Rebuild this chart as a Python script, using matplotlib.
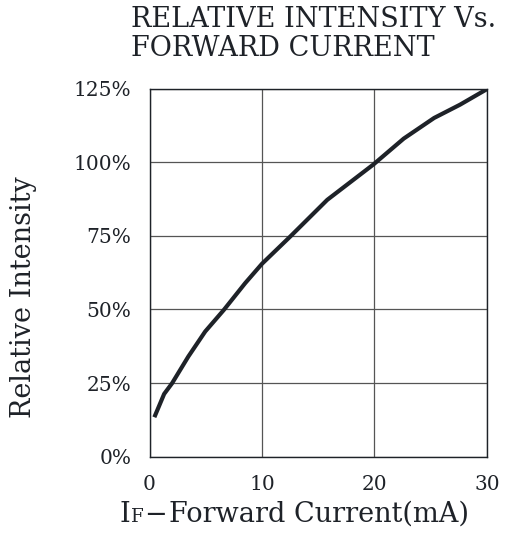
import matplotlib
matplotlib.use("Agg")
import matplotlib.pyplot as plt

# значения
current_mA = [0.43, 1.3, 2.0, 3.45, 4.95, 6.6, 8.5, 10.0, 12.5, 15.8, 19.9, 22.6, 25.3, 27.6, 30.0]
rel_intensity = [13.4, 21.3, 24.9, 34.0, 42.5, 49.8, 58.9, 65.5, 74.7, 87.2, 99.2, 108.0, 115.0, 119.5, 124.8]

x_ticks = [0, 10, 20, 30]
y_ticks = [0, 25, 50, 75, 100, 125]
y_tick_labels = ["0%", "25%", "50%", "75%", "100%", "125%"]

plt.rcParams['font.family'] = ['DejaVu Serif']
ink = '#1e2228'
W, H = 511, 544

fig = plt.figure(figsize=(5.11, 5.44), dpi=100)
ax1 = fig.add_axes([0.2926, 0.1605, 0.9530 - 0.2926, 0.8373 - 0.1605])

ax1.plot(current_mA, rel_intensity, color=ink, lw=3.0, solid_capstyle='butt', zorder=3)

ax1.set_xlim(0, 30)
ax1.set_ylim(0, 125)
ax1.set_xticks(x_ticks)
ax1.set_yticks(y_ticks)
ax1.set_yticklabels(y_tick_labels)
ax1.grid(True, color='#555555', lw=0.9)
ax1.tick_params(axis='both', which='major', length=0, labelsize=14.5, colors=ink)
ax1.tick_params(axis='x', pad=13)
ax1.tick_params(axis='y', pad=13)
for sp in ax1.spines.values():
    sp.set_color(ink)
    sp.set_linewidth(1.0)

renderer = fig.canvas.get_renderer()
label_size = 19.5

# заголовок в две строки
fig.text(131 / W, 1 - 26.7 / H, "RELATIVE INTENSITY Vs.", fontsize=19.5, color=ink, ha='left', va='baseline')
fig.text(131 / W, 1 - 55.5 / H, "FORWARD CURRENT", fontsize=19.5, color=ink, ha='left', va='baseline')

# подпись оси Y
fig.text(24 / W, 1 - 297.5 / H, "Relative Intensity", fontsize=label_size, color=ink,
         rotation=90, ha='center', va='center')

# подпись оси X: I с малой F, затем остальное; собираем по кускам
base = 1 - 521.7 / H
parts = [("I", label_size), ("F", label_size * 0.68), ("\u2212", label_size), ("Forward Current(mA)", label_size)]
gaps = [0, 1, 2]
txts = [fig.text(0, base, s, fontsize=fsz, color=ink, ha='left', va='baseline') for s, fsz in parts]
widths = [t.get_window_extent(renderer).width for t in txts]
total = sum(widths) + sum(gaps)
x = 294.5 - total / 2
for i, t in enumerate(txts):
    t.set_x(x / W)
    x += widths[i] + (gaps[i] if i < len(gaps) else 0)

fig.savefig("out.png", dpi=100)
